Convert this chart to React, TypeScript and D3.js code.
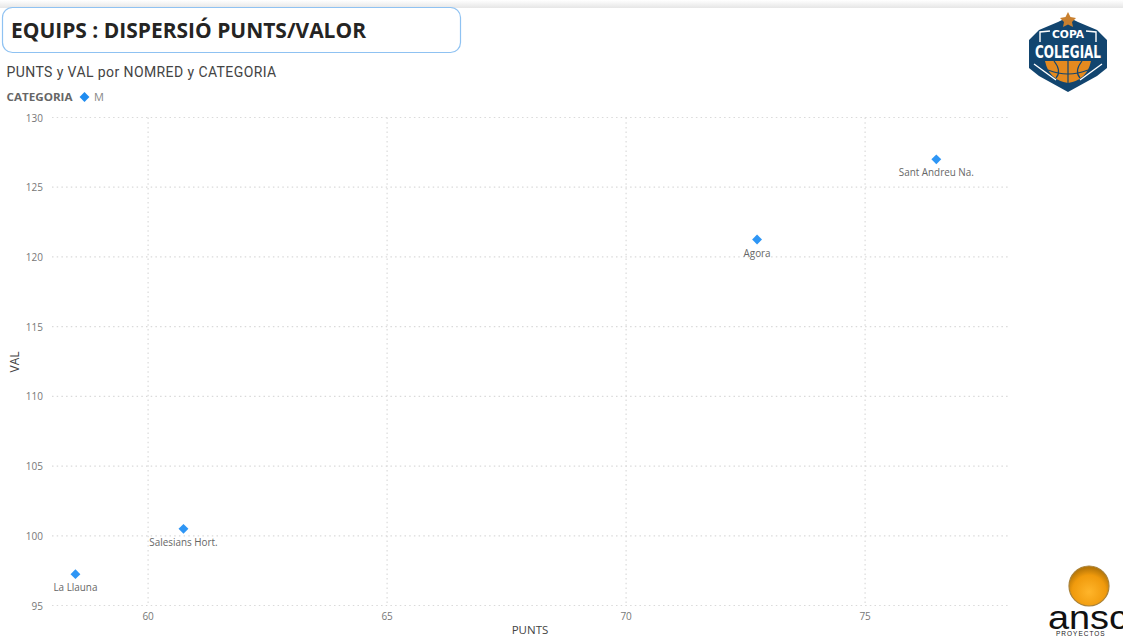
import React from "react";
import * as d3 from "d3";

const teams = ["La Llauna", "Salesians Hort.", "Agora", "Sant Andreu Na."];
const punts = [58.48, 60.74, 72.74, 76.49];
const val = [97.25, 100.5, 121.25, 127.0];
const xTicks = [60, 65, 70, 75];
const yTicks = [95, 100, 105, 110, 115, 120, 125, 130];

const W = 1123, H = 637;
const x = d3.scaleLinear().domain([58, 78]).range([52.5, 1008.5]);
const y = d3.scaleLinear().domain([95, 130]).range([605.5, 117.5]);
const tickFont = "'Open Sans', 'Noto Sans', sans-serif";
const diamond = d3.symbol().type(d3.symbolDiamond2).size(62)();

function CopaLogo() {
  return (
    <g>
      <path d="M1068 17 L1078 22 L1097 30 L1107 40 L1107 68 L1097 76 L1068 92 L1039 76 L1029 68 L1029 40 L1039 30 L1058 22 Z" fill="#12456f" />
      <path d="M1068 12 L1070.5 17 L1076 18 L1072 22 L1073 27 L1068 24.5 L1063 27 L1064 22 L1060 18 L1065.5 17 Z" fill="#c9802f" />
      <path d="M1040 42 L1040 32 L1050 31 M1096 42 L1096 32 L1086 31" fill="none" stroke="#fff" strokeWidth="1.4" />
      <text x="1068" y="38" textAnchor="middle" fontFamily="'DejaVu Sans', sans-serif" fontWeight="700" fontSize="11" textLength="32" lengthAdjust="spacingAndGlyphs" fill="#fff">COPA</text>
      <text x="1068" y="58" textAnchor="middle" fontFamily="'DejaVu Sans', sans-serif" fontWeight="700" fontSize="17" textLength="66" lengthAdjust="spacingAndGlyphs" fill="#fff">COLEGIAL</text>
      <path d="M1045 61 L1091 61 Q1087 80 1068 83 Q1049 80 1045 61 Z" fill="#e58a1f" />
      <path d="M1068 61 L1068 83 M1054 61 Q1062 71 1056 78 M1082 61 Q1074 71 1080 78 M1048 70 Q1068 78 1088 70" stroke="#12456f" strokeWidth="1.2" fill="none" />
      <path d="M1034 64 L1056 80 M1102 64 L1080 80" stroke="#fff" strokeWidth="1.4" fill="none" />
    </g>
  );
}

function AnscLogo() {
  return (
    <g>
      <defs>
        <radialGradient id="ball" cx="50%" cy="65%" r="60%">
          <stop offset="0%" stopColor="#ffb52a" />
          <stop offset="70%" stopColor="#f09a0c" />
          <stop offset="100%" stopColor="#b87708" />
        </radialGradient>
      </defs>
      <circle cx="1089" cy="586" r="20" fill="url(#ball)" stroke="#a9823a" strokeWidth="1.2" />
      <text x="1048" y="629" fontFamily="'Liberation Sans', sans-serif" fontSize="33" textLength="80" lengthAdjust="spacingAndGlyphs" fill="#111">ansc</text>
      <text x="1056" y="636" fontFamily="'Liberation Sans', sans-serif" fontSize="6.5" letterSpacing="1" fill="#222">PROYECTOS</text>
    </g>
  );
}

export default function App() {
  return (
    <svg width={W} height={H} style={{ position: "absolute", left: 0, top: 0, background: "#fff" }}>
      <defs>
        <linearGradient id="topShade" x1="0" y1="0" x2="0" y2="1">
          <stop offset="0%" stopColor="#fff" />
          <stop offset="100%" stopColor="#e6e6e6" />
        </linearGradient>
      </defs>
      <rect x={0} y={0} width={W} height={8} fill="url(#topShade)" />
      <rect x={2.5} y={7.5} width={458} height={45} rx={10} fill="#fff" stroke="#8fc2f2" strokeWidth={1.2} />
      <text x={11} y={38} fontFamily="'Open Sans', sans-serif" fontWeight={700} fontSize={21} fill="#252423" textLength={355} lengthAdjust="spacingAndGlyphs">EQUIPS : DISPERSIÓ PUNTS/VALOR</text>
      <text x={6.5} y={77} fontFamily="Roboto, sans-serif" fontSize={14} letterSpacing={0.3} fill="#444" textLength={270}>PUNTS y VAL por NOMRED y CATEGORIA</text>
      <text x={6.5} y={101} fontFamily={tickFont} fontWeight={700} fontSize={11} fill="#666" textLength={66} lengthAdjust="spacingAndGlyphs">CATEGORIA</text>
      <path d={diamond} transform="translate(84.5,97)" fill="#1f8cf0" />
      <text x={94} y={101} fontFamily={tickFont} fontSize={11} fill="#888">M</text>

      {yTicks.map((t) => (
        <g key={t}>
          <line x1={52} x2={1008} y1={y(t)} y2={y(t)} stroke="#dadada" strokeWidth={1.2} strokeDasharray="1.5 3.2" />
          <text x={43} y={y(t) + 4} textAnchor="end" fontFamily={tickFont} fontSize={10} fill="#777">{t}</text>
        </g>
      ))}
      {xTicks.map((t) => (
        <g key={t}>
          <line x1={x(t)} x2={x(t)} y1={117.5} y2={605.5} stroke="#dadada" strokeWidth={1.2} strokeDasharray="1.5 3.2" />
          <text x={x(t)} y={620} textAnchor="middle" fontFamily={tickFont} fontSize={10} fill="#777">{t}</text>
        </g>
      ))}
      <text transform="translate(19,362) rotate(-90)" textAnchor="middle" fontFamily={tickFont} fontSize={12} fill="#444">VAL</text>
      <text x={530} y={633.5} textAnchor="middle" fontFamily={tickFont} fontSize={11.5} fill="#444">PUNTS</text>

      {teams.map((n, i) => (
        <g key={n}>
          <path d={diamond} transform={`translate(${x(punts[i])},${y(val[i])})`} fill="#2e96f5" />
          <text x={x(punts[i])} y={y(val[i]) + 17} textAnchor="middle" fontFamily={tickFont} fontSize={9.9} fill="#666">{n}</text>
        </g>
      ))}
      <CopaLogo />
      <AnscLogo />
    </svg>
  );
}
